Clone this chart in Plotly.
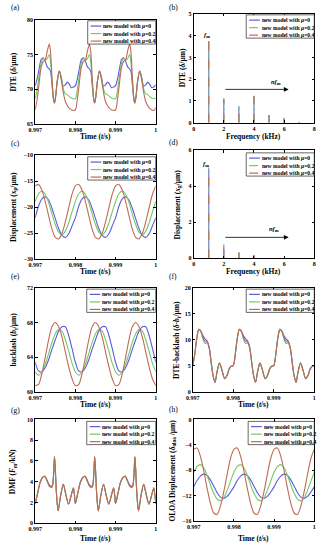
import numpy as np
import plotly.graph_objects as go

W, H = 326, 550
FONT = "Liberation Serif"
BLUE, GREEN, RED = "#5B5BDB", "#72C96A", "#BF6A55"
COLORS = [BLUE, GREEN, RED]
LEG_LABELS = ["new model with <i>μ</i>=0", "new model with <i>μ</i>=0.2", "new model with <i>μ</i>=0.4"]

# ---------------- data ----------------
# (a) DTE, sample phases within each mesh period
phase_a = [0, .05, .10, .15, .20, .25, .30, .35, .38, .42, .46, .48, .51, .55, .60, .65, .70, .75, .80, .85, .90, .95]
dte_mu0 = [70.5, 71.5, 73.0, 74.3, 74.5, 74.0, 73.2, 72.9, 72.6, 70.5, 68.4, 68.0, 69.0, 71.2, 72.6, 71.7, 70.4, 70.6, 71.0, 70.7, 70.2, 70.3,
           70.5, 71.5, 73.0, 74.3, 74.5, 74.0, 73.2, 72.9, 72.6, 70.5, 68.4, 68.0, 69.0, 71.2, 72.6, 71.7, 70.4, 70.6, 71.0, 70.7, 70.2, 70.3,
           70.5, 71.5, 73.0, 74.3, 74.5, 74.0, 73.2, 72.9, 72.6, 70.5, 68.4, 68.0, 69.0, 71.2, 72.6, 71.7, 70.4, 70.6, 71.0, 70.7, 70.2, 70.3,
           70.6]
dte_mu2 = [68.6, 70.0, 72.0, 73.8, 74.4, 74.2, 74.4, 75.0, 74.0, 71.0, 68.3, 68.0, 69.0, 71.2, 72.6, 71.5, 70.0, 69.3, 69.2, 68.9, 68.7, 68.6,
           68.6, 70.0, 72.0, 73.8, 74.4, 74.2, 74.4, 75.0, 74.0, 71.0, 68.3, 68.0, 69.0, 71.2, 72.6, 71.5, 70.0, 69.3, 69.2, 68.9, 68.7, 68.6,
           68.6, 70.0, 72.0, 73.8, 74.4, 74.2, 74.4, 75.0, 74.0, 71.0, 68.3, 68.0, 69.0, 71.2, 72.6, 71.5, 70.0, 69.3, 69.2, 68.9, 68.7, 68.6,
           68.7]
dte_mu4 = [67.0, 68.6, 71.0, 73.2, 74.0, 74.2, 75.5, 76.5, 75.5, 71.5, 68.3, 68.0, 69.0, 71.2, 72.6, 71.3, 69.5, 68.2, 67.6, 67.2, 67.0, 66.9,
           67.0, 68.6, 71.0, 73.2, 74.0, 74.2, 75.5, 76.5, 75.5, 71.5, 68.3, 68.0, 69.0, 71.2, 72.6, 71.3, 69.5, 68.2, 67.6, 67.2, 67.0, 66.9,
           67.0, 68.6, 71.0, 73.2, 74.0, 74.2, 75.5, 76.5, 75.5, 71.5, 68.3, 68.0, 69.0, 71.2, 72.6, 71.3, 69.5, 68.2, 67.6, 67.2, 67.0, 66.9,
           67.3]

# (b) DTE spectrum (kHz, amplitude)
freq_b = [1, 2, 3, 4, 5, 6, 7]
spec_b_mu0 = [3.75, 1.08, 0.76, 1.20, 0.34, 0.19, 0.03]
spec_b_mu2 = [3.80, 1.10, 0.78, 1.22, 0.35, 0.20, 0.03]
spec_b_mu4 = [3.82, 1.12, 0.79, 1.24, 0.36, 0.21, 0.04]

# (c) pinion displacement, 12 samples per period
xp_mu0 = [-22.0, -19.8, -18.4, -18.0, -18.6, -20.2, -22.2, -24.1, -25.4, -25.8, -25.1, -23.6,
          -22.0, -19.8, -18.4, -18.0, -18.6, -20.2, -22.2, -24.1, -25.4, -25.8, -25.1, -23.6,
          -22.0, -19.8, -18.4, -18.0, -18.6, -20.2, -22.2, -24.1, -25.4, -25.8, -25.1, -23.6, -22.0]
xp_mu2 = [-18.9, -17.4, -16.9, -17.5, -19.1, -21.3, -23.3, -24.8, -25.3, -24.6, -23.0, -20.9,
          -18.9, -17.4, -16.9, -17.5, -19.1, -21.3, -23.3, -24.8, -25.3, -24.6, -23.0, -20.9,
          -18.9, -17.4, -16.9, -17.5, -19.1, -21.3, -23.3, -24.8, -25.3, -24.6, -23.0, -20.9, -18.9]
xp_mu4 = [-15.9, -15.6, -16.7, -18.9, -21.6, -24.2, -25.8, -26.1, -25.0, -22.8, -20.1, -17.5,
          -15.9, -15.6, -16.7, -18.9, -21.6, -24.2, -25.8, -26.1, -25.0, -22.8, -20.1, -17.5,
          -15.9, -15.6, -16.7, -18.9, -21.6, -24.2, -25.8, -26.1, -25.0, -22.8, -20.1, -17.5, -15.9]

# (d) gear displacement spectrum
freq_d = [1, 2, 3, 4]
spec_d_mu0 = [5.00, 0.70, 0.30, 0.16]
spec_d_mu2 = [5.02, 0.78, 0.32, 0.17]
spec_d_mu4 = [5.05, 0.82, 0.33, 0.18]

# (e) backlash
bt_mu0 = [63.4, 62.4, 62.3, 62.8, 63.7, 64.9, 66.0, 67.0, 67.5, 67.5, 66.5, 65.0,
          63.4, 62.4, 62.3, 62.8, 63.7, 64.9, 66.0, 67.0, 67.5, 67.5, 66.5, 65.0,
          63.4, 62.4, 62.3, 62.8, 63.7, 64.9, 66.0, 67.0, 67.5, 67.5, 66.5, 65.0, 63.4]
bt_mu2 = [62.3, 61.9, 62.3, 63.2, 64.4, 65.7, 66.7, 67.2, 67.0, 66.0, 64.7, 63.3,
          62.3, 61.9, 62.3, 63.2, 64.4, 65.7, 66.7, 67.2, 67.0, 66.0, 64.7, 63.3,
          62.3, 61.9, 62.3, 63.2, 64.4, 65.7, 66.7, 67.2, 67.0, 66.0, 64.7, 63.3, 62.3]
bt_mu4 = [60.7, 60.85, 62.1, 64.0, 66.0, 67.5, 68.0, 67.5, 66.3, 64.6, 62.9, 61.5,
          60.7, 60.85, 62.1, 64.0, 66.0, 67.5, 68.0, 67.5, 66.3, 64.6, 62.9, 61.5,
          60.7, 60.85, 62.1, 64.0, 66.0, 67.5, 68.0, 67.5, 66.3, 64.6, 62.9, 61.5, 60.7]

# (f) DTE - backlash
phase_f = [0, .05, .10, .15, .20, .25, .30, .36, .41, .46, .50, .55, .60, .66, .72, .79, .85, .90, .95]
db_mu0 = [5.0, 7.2, 10.3, 12.0, 11.7, 10.8, 10.2, 9.7, 8.4, 5.4, 3.2, 1.8, 3.8, 5.5, 4.2, 2.5, 3.2, 4.4, 4.9,
          5.0, 7.2, 10.3, 12.0, 11.7, 10.8, 10.2, 9.7, 8.4, 5.4, 3.2, 1.8, 3.8, 5.5, 4.2, 2.5, 3.2, 4.4, 4.9,
          5.0, 7.2, 10.3, 12.0, 11.7, 10.8, 10.2, 9.7, 8.4, 5.4, 3.2, 1.8, 3.8, 5.5, 4.2, 2.5, 3.2, 4.4, 4.9, 5.0]
db_mu2 = [5.0, 7.2, 10.3, 12.0, 11.6, 10.2, 9.3, 9.4, 8.2, 5.3, 3.2, 1.8, 3.8, 5.5, 4.2, 2.5, 3.2, 4.4, 4.9,
          5.0, 7.2, 10.3, 12.0, 11.6, 10.2, 9.3, 9.4, 8.2, 5.3, 3.2, 1.8, 3.8, 5.5, 4.2, 2.5, 3.2, 4.4, 4.9,
          5.0, 7.2, 10.3, 12.0, 11.6, 10.2, 9.3, 9.4, 8.2, 5.3, 3.2, 1.8, 3.8, 5.5, 4.2, 2.5, 3.2, 4.4, 4.9, 5.0]
db_mu4 = [5.0, 7.2, 10.3, 12.0, 11.6, 10.5, 9.7, 9.5, 8.3, 5.3, 3.2, 1.8, 3.8, 5.5, 4.2, 2.5, 3.2, 4.4, 4.9,
          5.0, 7.2, 10.3, 12.0, 11.6, 10.5, 9.7, 9.5, 8.3, 5.3, 3.2, 1.8, 3.8, 5.5, 4.2, 2.5, 3.2, 4.4, 4.9,
          5.0, 7.2, 10.3, 12.0, 11.6, 10.5, 9.7, 9.5, 8.3, 5.3, 3.2, 1.8, 3.8, 5.5, 4.2, 2.5, 3.2, 4.4, 4.9, 5.0]

# (g) dynamic meshing force
phase_g = [0, .06, .12, .18, .24, .30, .36, .42, .455, .48, .50, .53, .57, .63, .70, .76, .83, .89, .95, .975]
dmf_mu0 = [1.9, 2.9, 3.9, 4.4, 4.55, 4.1, 3.65, 3.6, 4.6, 6.4, 5.2, 2.8, 1.2, 2.6, 3.75, 2.8, 1.85, 2.6, 3.4, 2.8,
           1.9, 2.9, 3.9, 4.4, 4.55, 4.1, 3.65, 3.6, 4.6, 6.4, 5.2, 2.8, 1.2, 2.6, 3.75, 2.8, 1.85, 2.6, 3.4, 2.8,
           1.9, 2.9, 3.9, 4.4, 4.55, 4.1, 3.65, 3.6, 4.6, 6.4, 5.2, 2.8, 1.2, 2.6, 3.75, 2.8, 1.85, 2.6, 3.4, 2.8, 1.9]
dmf_mu2 = [1.9, 2.9, 3.9, 4.4, 4.5, 4.0, 3.5, 3.45, 4.5, 6.4, 5.2, 2.8, 1.2, 2.6, 3.75, 2.8, 1.85, 2.6, 3.4, 2.8,
           1.9, 2.9, 3.9, 4.4, 4.5, 4.0, 3.5, 3.45, 4.5, 6.4, 5.2, 2.8, 1.2, 2.6, 3.75, 2.8, 1.85, 2.6, 3.4, 2.8,
           1.9, 2.9, 3.9, 4.4, 4.5, 4.0, 3.5, 3.45, 4.5, 6.4, 5.2, 2.8, 1.2, 2.6, 3.75, 2.8, 1.85, 2.6, 3.4, 2.8, 1.9]
dmf_mu4 = [1.9, 2.9, 3.9, 4.4, 4.5, 4.05, 3.55, 3.5, 4.55, 6.4, 5.2, 2.8, 1.2, 2.6, 3.75, 2.8, 1.85, 2.6, 3.4, 2.8,
           1.9, 2.9, 3.9, 4.4, 4.5, 4.05, 3.55, 3.5, 4.55, 6.4, 5.2, 2.8, 1.2, 2.6, 3.75, 2.8, 1.85, 2.6, 3.4, 2.8,
           1.9, 2.9, 3.9, 4.4, 4.5, 4.05, 3.55, 3.5, 4.55, 6.4, 5.2, 2.8, 1.2, 2.6, 3.75, 2.8, 1.85, 2.6, 3.4, 2.8, 1.9]

# (h) OLOA displacement
oloa_mu0 = [-10.6, -9.6, -8.9, -8.6, -8.8, -9.5, -10.5, -11.5, -12.2, -12.4, -12.1, -11.4,
            -10.6, -9.6, -8.9, -8.6, -8.8, -9.5, -10.5, -11.5, -12.2, -12.4, -12.1, -11.4,
            -10.6, -9.6, -8.9, -8.6, -8.8, -9.5, -10.5, -11.5, -12.2, -12.4, -12.1, -11.4, -10.6]
oloa_mu2 = [-8.3, -7.4, -7.1, -7.6, -8.8, -10.3, -11.6, -12.5, -12.8, -12.3, -11.1, -9.7,
            -8.3, -7.4, -7.1, -7.6, -8.8, -10.3, -11.6, -12.5, -12.8, -12.3, -11.1, -9.7,
            -8.3, -7.4, -7.1, -7.6, -8.8, -10.3, -11.6, -12.5, -12.8, -12.3, -11.1, -9.7, -8.3]
oloa_mu4 = [-4.7, -4.5, -5.8, -8.1, -10.8, -13.2, -14.7, -14.9, -13.6, -11.3, -8.6, -6.1,
            -4.7, -4.5, -5.8, -8.1, -10.8, -13.2, -14.7, -14.9, -13.6, -11.3, -8.6, -6.1,
            -4.7, -4.5, -5.8, -8.1, -10.8, -13.2, -14.7, -14.9, -13.6, -11.3, -8.6, -6.1, -4.7]

T0, PERIOD, NPER = 0.997, 0.001, 3
time_ticks = [0.997, 0.998, 0.999, 1.0]
time_ticktext = ["0.997", "0.998", "0.999", "1"]


def time_from_phases(phases):
    t = [T0 + PERIOD * (k + p) for k in range(NPER) for p in phases]
    return t + [T0 + PERIOD * NPER]


t_a = time_from_phases(phase_a)
t_f = time_from_phases(phase_f)
t_g = time_from_phases(phase_g)
t_u = list(np.linspace(T0, T0 + PERIOD * NPER, 37))

# ---------------- layout helpers ----------------
fig = go.Figure()
BOXES = {  # px: x0, y0(top), x1, y1(bottom)
    1: (29, 17, 153, 122), 2: (192, 11, 316, 121),
    3: (29, 154, 153, 259), 4: (192, 149, 316, 258),
    5: (29, 288, 153, 393), 6: (191, 288, 316, 393),
    7: (29, 421, 153, 526), 8: (192, 421, 316, 524),
}


def ax_name(i, a):
    return a if i == 1 else f"{a}{i}"


def ann(text, x, y, size=7.5, xanchor="center", yanchor="middle", angle=0, bold=True):
    fig.add_annotation(text=text, x=x / W, y=1 - y / H, xref="paper", yref="paper",
                       showarrow=False, xanchor=xanchor, yanchor=yanchor, textangle=angle,
                       borderpad=0,
                       font=dict(family=FONT, size=size, color="black",
                                 weight="bold" if bold else "normal"))


def add_time_series(i, t, series, shape="spline"):
    for k, ys in enumerate(series):
        fig.add_trace(go.Scatter(x=t, y=ys, mode="lines", name=LEG_LABELS[k], showlegend=False,
                                 line=dict(color=COLORS[k], width=1.1, shape=shape, smoothing=0.8),
                                 xaxis=ax_name(i, "x"), yaxis=ax_name(i, "y")))


def add_spectrum(i, freqs, series):
    dashes = ["solid", "dashdot", "dash"]
    for k, amps in enumerate(series):
        xs, ys = [], []
        for f, a in zip(freqs, amps):
            xs += [f, f, None]
            ys += [0, a, None]
        fig.add_trace(go.Scatter(x=xs, y=ys, mode="lines", name=LEG_LABELS[k], showlegend=False,
                                 line=dict(color=COLORS[k], width=1.0, dash=dashes[k]),
                                 xaxis=ax_name(i, "x"), yaxis=ax_name(i, "y")))


def legend_box(x0, y0, x1, dashed):
    y1 = y0 + 23.5
    fig.add_shape(type="rect", xref="paper", yref="paper", x0=x0 / W, x1=x1 / W,
                  y0=1 - y1 / H, y1=1 - y0 / H, line=dict(color="black", width=0.6),
                  fillcolor="white", layer="above")
    dashes = ["solid", "dashdot", "dash"] if dashed else ["solid"] * 3
    for k in range(3):
        yy = y0 + 5.3 + 7.6 * k
        fig.add_shape(type="line", xref="paper", yref="paper", x0=(x0 + 3) / W, x1=(x0 + 14) / W,
                      y0=1 - yy / H, y1=1 - yy / H,
                      line=dict(color=COLORS[k], width=1.2, dash=dashes[k]), layer="above")
        ann(LEG_LABELS[k], x0 + 15, yy, size=5.6, xanchor="left")


# ---------------- traces ----------------
add_time_series(1, t_a, [dte_mu0, dte_mu2, dte_mu4])
add_spectrum(2, freq_b, [spec_b_mu0, spec_b_mu2, spec_b_mu4])
add_time_series(3, t_u, [xp_mu0, xp_mu2, xp_mu4])
add_spectrum(4, freq_d, [spec_d_mu0, spec_d_mu2, spec_d_mu4])
add_time_series(5, t_u, [bt_mu0, bt_mu2, bt_mu4])
add_time_series(6, t_f, [db_mu0, db_mu2, db_mu4])
add_time_series(7, t_g, [dmf_mu0, dmf_mu2, dmf_mu4])
add_time_series(8, t_u, [oloa_mu0, oloa_mu2, oloa_mu4])

# ---------------- axes ----------------
axis_common = dict(showline=True, linecolor="black", linewidth=0.8, mirror="ticks",
                   ticks="inside", ticklen=2.5, tickwidth=0.7, tickcolor="black",
                   showgrid=False, zeroline=False, fixedrange=True,
                   tickfont=dict(family=FONT, size=6, color="black", weight="bold"))

YRANGES = {1: ([65, 80], [65, 70, 75, 80]), 2: ([0, 5], [0, 1, 2, 3, 4, 5]),
           3: ([-30, -10], [-30, -25, -20, -15, -10]), 4: ([0, 6], [0, 2, 4, 6]),
           5: ([60, 72], [60, 64, 68, 72]), 6: ([0, 20], [0, 5, 10, 15, 20]),
           7: ([0, 10], [0, 2, 4, 6, 8, 10]), 8: ([-16, 0], [-16, -12, -8, -4, 0])}

lay = {}
for i, (x0, y0, x1, y1) in BOXES.items():
    if i in (2, 4):
        xa = dict(range=[0, 8], tickvals=[0, 2, 4, 6, 8])
    else:
        xa = dict(range=[T0, T0 + PERIOD * NPER], tickvals=time_ticks, ticktext=time_ticktext)
    yr, yt = YRANGES[i]
    lay[ax_name(i, "xaxis")] = dict(domain=[x0 / W, x1 / W], anchor=ax_name(i, "y"), **xa, **axis_common)
    lay[ax_name(i, "yaxis")] = dict(domain=[1 - y1 / H, 1 - y0 / H], anchor=ax_name(i, "x"),
                                    range=yr, tickvals=yt, **axis_common)

fig.update_layout(width=W, height=H, margin=dict(l=0, r=0, t=0, b=0),
                  paper_bgcolor="white", plot_bgcolor="white", showlegend=False, **lay)

# ---------------- texts ----------------
TIME_T = "Time (<i>t</i>/s)"
FREQ_T = "Frequency (kHz)"
titles = {
    1: (TIME_T, 135, "DTE (<i>δ</i>/μm)", 7),
    2: (FREQ_T, 135, "DTE (<i>δ</i>/μm)", 180),
    3: (TIME_T, 271, "Displacement (<i>x</i><sub>p</sub>/μm)", 7),
    4: (FREQ_T, 271, "Displacement (<i>x</i><sub>g</sub>/μm)", 176),
    5: (TIME_T, 406, "backlash (<i>b</i><sub>t</sub>/μm)", 7),
    6: (TIME_T, 406, "DTE-backlash (<i>δ-b</i><sub>t</sub>/μm)", 175),
    7: (TIME_T, 541, "DMF (<i>F</i><sub>m</sub>/kN)", 7),
    8: (TIME_T, 541, "OLOA Displacement (<i>δ</i><sub>oloa</sub> /μm)", 171),
}
for i, (xt, xty, yt, ytx) in titles.items():
    x0, y0, x1, y1 = BOXES[i]
    ann(xt, (x0 + x1) / 2, xty, size=7.5)
    ann(yt, ytx, (y0 + y1) / 2, size=7.5, angle=-90)

panel_labels = {1: ("(a)", 3, 5), 2: ("(b)", 166, 5), 3: ("(c)", 3, 142), 4: ("(d)", 166, 141),
                5: ("(e)", 3, 277), 6: ("(f)", 166, 277), 7: ("(g)", 3, 412), 8: ("(h)", 166, 411)}
for i, (lab, x, y) in panel_labels.items():
    ann(lab, x, y, size=7.5, xanchor="left", bold=False)

# legends
legend_box(83, 18, 153, False)
legend_box(246, 12, 316, True)
legend_box(83, 155.5, 153, False)
legend_box(246, 151.5, 316, True)
legend_box(82, 289.3, 153, False)
legend_box(246, 289.3, 316, False)
legend_box(82, 423, 153, False)
legend_box(248, 423, 316, False)

# spectrum annotations
for axn, fm_xy, n_xy, arrow_y in (("2", (0.9, 4.05), (5.45, 1.85), 1.53),
                                  ("4", (0.8, 5.25), (5.35, 1.6), 1.16)):
    xr, yr = "x" + axn, "y" + axn
    fig.add_annotation(text="<i>f</i><sub>m</sub>", x=fm_xy[0], y=fm_xy[1], xref=xr, yref=yr,
                       showarrow=False, font=dict(family=FONT, size=6.5, color="black", weight="bold"))
    fig.add_annotation(text="<i>nf</i><sub>m</sub>", x=n_xy[0], y=n_xy[1], xref=xr, yref=yr,
                       showarrow=False, font=dict(family=FONT, size=6.5, color="black", weight="bold"))
    fig.add_annotation(text="", x=6.3, y=arrow_y, ax=2.0, ay=arrow_y, xref=xr, yref=yr,
                       axref=xr, ayref=yr, showarrow=True, arrowhead=2, arrowsize=1.2,
                       arrowwidth=0.8, arrowcolor="black", standoff=0, startstandoff=0)

fig.write_html("out.html", config={"displayModeBar": False},
               post_script="document.body.style.margin='0';document.body.style.overflow='hidden';")
